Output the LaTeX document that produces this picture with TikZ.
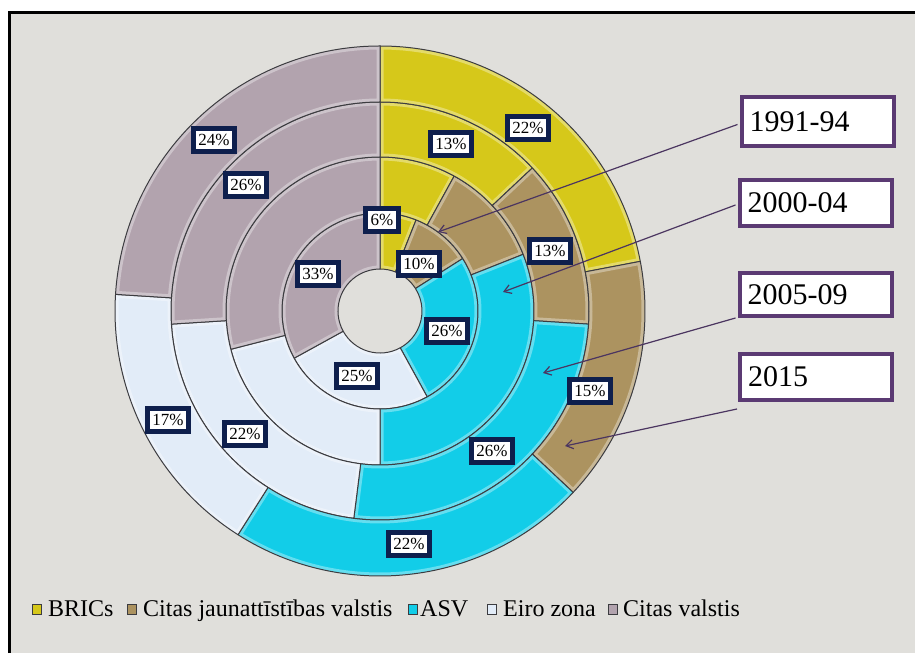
\documentclass[tikz,border=0pt]{standalone}
\usepackage{fontspec}
\setmainfont{Liberation Serif}
\usetikzlibrary{calc,arrows.meta}
\definecolor{bgc}{HTML}{E0DFDB}
\definecolor{bricsc}{HTML}{D6C81A}
\definecolor{tanc}{HTML}{AC9360}
\definecolor{asvc}{HTML}{12CDE8}
\definecolor{eiroc}{HTML}{E2ECF8}
\definecolor{citasc}{HTML}{B2A3AE}
\definecolor{segline}{HTML}{3C3C40}
\definecolor{lblnavy}{HTML}{0E1F4D}
\definecolor{yrpurple}{HTML}{5B3A73}
\definecolor{arrowc}{HTML}{4B3560}
\newcommand\dsegpath[4]{($(C)+({90-#3}:#1pt)$) arc[start angle={90-#3}, end angle={90-#4}, radius=#1pt] -- ($(C)+({90-#4}:#2pt)$) arc[start angle={90-#4}, end angle={90-#3}, radius=#2pt] -- cycle}
\newcommand\dseg[5]{%
  \fill[#1] \dsegpath{#2}{#3}{#4}{#5};
  \begin{scope}
    \clip \dsegpath{#2}{#3}{#4}{#5};
    \draw[white, opacity=0.35, line width=7pt] \dsegpath{#2}{#3}{#4}{#5};
  \end{scope}
  \draw[donutseg] \dsegpath{#2}{#3}{#4}{#5};}
\begin{document}
\begin{tikzpicture}[x=1pt,y=1pt,
  donutseg/.style={draw=segline, line width=1pt, line join=round},
  pct/.style={draw=lblnavy, line width=4.5pt, fill=white, font=\fontsize{17}{17}\selectfont, inner xsep=5pt, inner ysep=5.5pt, text height=12pt, text depth=0pt},
  yearbox/.style={draw=yrpurple, line width=4pt, fill=white, font=\fontsize{30}{30}\selectfont, text width=136pt, align=left, inner xsep=8pt, minimum height=46pt},
  yarrow/.style={draw=arrowc, line width=1.2pt, -{Straight Barb[length=7pt,width=9pt]}},
  legtext/.style={font=\fontsize{24}{24}\selectfont, anchor=base west, inner sep=0pt},
  legsq/.style={minimum width=9pt, minimum height=10pt, inner sep=0pt, draw=segline, line width=0.4pt}
]
\useasboundingbox (0,0) rectangle (915,653);
\fill[white] (0,0) rectangle (915,653);
\fill[bgc] (9.5,0) rectangle (915,640.5);
\draw[black, line width=3pt] (9.5,0) -- (9.5,640.5) -- (915,640.5);
\coordinate (C) at (380,342);
% ring 1 (1991-94)
\dseg{bricsc}{42}{98}{0}{21.6}
\dseg{tanc}{42}{98}{21.6}{57.6}
\dseg{asvc}{42}{98}{57.6}{151.2}
\dseg{eiroc}{42}{98}{151.2}{241.2}
\dseg{citasc}{42}{98}{241.2}{360}
% ring 2 (2000-04)
\dseg{bricsc}{98}{154}{0}{28.8}
\dseg{tanc}{98}{154}{28.8}{68.4}
\dseg{asvc}{98}{154}{68.4}{180}
\dseg{eiroc}{98}{154}{180}{255.6}
\dseg{citasc}{98}{154}{255.6}{360}
% ring 3 (2005-09)
\dseg{bricsc}{154}{209}{0}{46.8}
\dseg{tanc}{154}{209}{46.8}{93.6}
\dseg{asvc}{154}{209}{93.6}{187.2}
\dseg{eiroc}{154}{209}{187.2}{266.4}
\dseg{citasc}{154}{209}{266.4}{360}
% ring 4 (2015)
\dseg{bricsc}{209}{265}{0}{79.2}
\dseg{tanc}{209}{265}{79.2}{133.2}
\dseg{asvc}{209}{265}{133.2}{212.4}
\dseg{eiroc}{209}{265}{212.4}{273.6}
\dseg{citasc}{209}{265}{273.6}{360}
% data labels
\node[pct] (l1) at (382,433) {6\%};
\node[pct] (l2) at (419,389) {10\%};
\node[pct] (l3) at (318,379) {33\%};
\node[pct] (l4) at (447,322) {26\%};
\node[pct] (l5) at (357,277) {25\%};
\node[pct] (l6) at (451,509) {13\%};
\node[pct] (l7) at (528,525) {22\%};
\node[pct] (l8) at (550,402) {13\%};
\node[pct] (l9) at (590,262) {15\%};
\node[pct] (l10) at (492,202) {26\%};
\node[pct] (l11) at (409,109) {22\%};
\node[pct] (l12) at (245,219) {22\%};
\node[pct] (l13) at (168,233) {17\%};
\node[pct] (l14) at (246,468) {26\%};
\node[pct] (l15) at (214,513) {24\%};
% year boxes
\node[yearbox, minimum height=49pt] (y1) at (817.5,531.5) {1991-94};
\node[yearbox] (y2) at (815.5,450) {2000-04};
\node[yearbox, minimum height=43pt] (y3) at (815.5,358.5) {2005-09};
\node[yearbox] (y4) at (816,276) {2015};
\coordinate (a1) at (438,421);
\coordinate (a2) at (503,361);
\coordinate (a3) at (543,280);
\coordinate (a4) at (565,207);
\coordinate (s4) at (737,244);
\draw[yarrow] ($(y1.west)+(-2,-3)$) -- (a1);
\draw[yarrow] ($(y2.west)+(-2,-2)$) -- (a2);
\draw[yarrow] ($(y3.south west)+(-2,0)$) -- (a3);
\draw[yarrow] (s4) -- (a4);
% legend
\node[legsq, fill=bricsc] (q1) at (36.5,44) {};
\node[legtext] (t1) at (48,37) {BRICs};
\node[legsq, fill=tanc] (q2) at (132,44) {};
\node[legtext] (t2) at (143,37) {Citas jaunattīstības valstis};
\node[legsq, fill=asvc] (q3) at (413,44) {};
\node[legtext] (t3) at (420,37) {ASV};
\node[legsq, fill=eiroc] (q4) at (492,44) {};
\node[legtext] (t4) at (503,37) {Eiro zona};
\node[legsq, fill=citasc] (q5) at (612.5,44) {};
\node[legtext] (t5) at (623,37) {Citas valstis};
\end{tikzpicture}
\end{document}
